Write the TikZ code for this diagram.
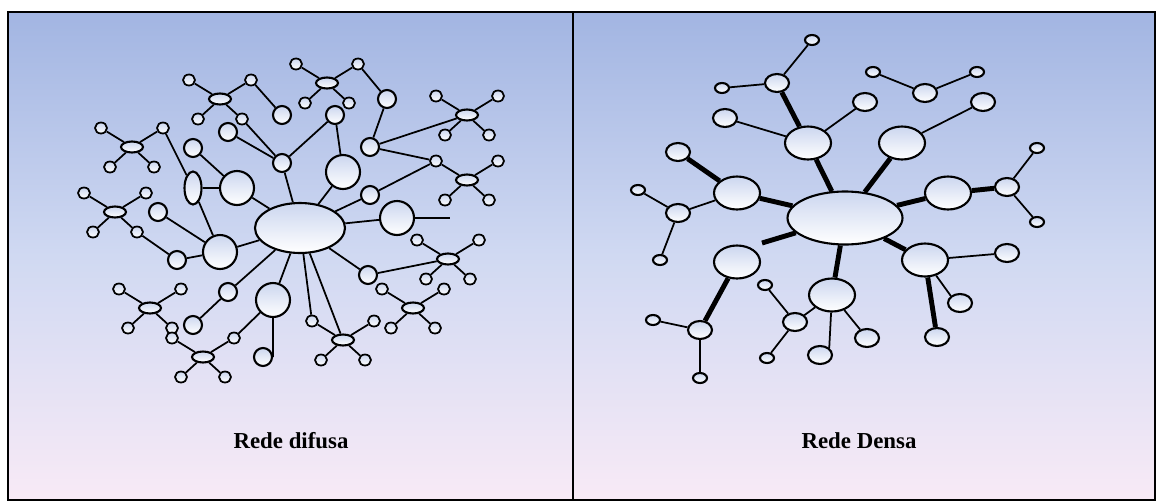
\documentclass[tikz,border=0pt]{standalone}
\usepackage{fontspec}
\setmainfont{Liberation Serif}
\usetikzlibrary{shapes.geometric}
\definecolor{skytop}{RGB}{162,181,226}
\definecolor{skymid}{RGB}{208,217,242}
\definecolor{skybot}{RGB}{248,234,246}
\newcommand{\molec}[3]{%
  \node[core] (#1) at (#2,#3) {};
  \foreach \k/\dx/\dy in {a/-31/-19, b/31/-19, c/-22/20, d/22/20} {
    \node[atom] (#1\k) at (#2+\dx,#3+\dy) {};
    \draw[link] (#1) -- (#1\k);
  }%
}
\begin{document}
\begin{tikzpicture}[
    x=0.02cm, y=-0.02cm,
    ball/.style={draw, ellipse, line width=1.2pt, inner sep=0pt, top color=skytop!55!white, bottom color=white},
    atom/.style={ball, minimum width=0.24cm, minimum height=0.22cm, line width=1pt},
    core/.style={ball, minimum width=0.44cm, minimum height=0.22cm},
    bub/.style={ball, minimum width=0.36cm, minimum height=0.36cm},
    blob/.style={ball, minimum width=0.68cm, minimum height=0.68cm},
    hubL/.style={ball, minimum width=1.8cm, minimum height=1.0cm},
    hubR/.style={ball, minimum width=2.3cm, minimum height=1.06cm},
    bigR/.style={ball, minimum width=0.92cm, minimum height=0.66cm},
    med/.style={ball, minimum width=0.48cm, minimum height=0.36cm},
    sml/.style={ball, minimum width=0.28cm, minimum height=0.2cm},
    link/.style={line width=1pt},
    bond/.style={line width=2.8pt},
    lab/.style={font=\bfseries\fontsize{13}{15}\selectfont}
]
\path[fill=white] (0,0) rectangle (1158,500);
\shade[top color=skytop, bottom color=skybot, middle color=skymid] (8,12) rectangle (573,500);
\shade[top color=skytop, bottom color=skybot, middle color=skymid] (573,12) rectangle (1155,500);
\draw[line width=1.1pt] (8,12) rectangle (1155,500);
\draw[line width=1.1pt] (573,12) -- (573,500);

% Rede difusa
\node[hubL] (L) at (300,228) {};
\molec{m1}{220}{99}
\molec{m2}{132}{147}
\molec{m3}{327}{83}
\molec{m4}{467}{115}
\molec{m5}{467}{180}
\molec{m6}{115}{212}
\molec{m7}{150}{308}
\molec{m8}{203}{357}
\molec{m9}{343}{340}
\molec{m10}{448}{259}
\molec{m11}{413}{308}
\foreach \n/\p in {b1/{228,132}, b2/{282,115}, b3/{282,163}, b4/{193,148}, b5/{158,212},
    b6/{177,260}, b7/{228,292}, b8/{193,325}, b9/{263,357}, b10/{335,115},
    b11/{387,99}, b12/{370,147}, b13/{370,195}, b14/{368,275}}
  \node[bub] (\n) at (\p) {};
\foreach \n/\p in {g1/{237,188}, g2/{220,252}, g3/{273,300}, g4/{343,172}, g5/{397,218}}
  \node[blob] (\n) at (\p) {};
\node[ball, minimum width=0.34cm, minimum height=0.66cm] (v1) at (193,188) {};
\coordinate (e1) at (450,218);

\foreach \a/\b in {m1b/b2, m1d/b3, b1/b3, b3/L, b3/b10, m2b/v1, v1/g1, b4/g1, g1/L,
    b5/g2, m6d/b6, b6/g2, v1/g2, g2/L, b7/L, b7/b8, m8b/g3, g3/L, g3/b9.east,
    L/m9a, L/m9, L/b14, b14/m10, L/b13, b13/m5a, L/g5, g5/e1, L/g4, g4/b10,
    b11/m3b, b11/b12, b12/m4, b12/m5a}
  \draw[link] (\a) -- (\b);

% Rede Densa
\node[hubR] (R) at (845,218) {};
\foreach \n/\p in {B1/{808,143}, B2/{902,143}, B3/{737,193}, B4/{948,193},
    B5/{925,260}, B6/{737,262}, B7/{832,295}}
  \node[bigR] (\n) at (\p) {};
\foreach \n/\p in {c1/{777,83}, c2/{725,118}, c3/{865,102}, c4/{925,93}, c5/{983,102},
    c6/{678,152}, c7/{678,213}, c8/{700,330}, c9/{795,322}, c10/{1007,187},
    c11/{1007,253}, c12/{960,303}, c13/{937,337}, c14/{820,355}, c15/{867,338}}
  \node[med] (\n) at (\p) {};
\foreach \n/\p in {d1/{812,40}, d2/{722,88}, d3/{873,72}, d4/{977,72}, d5/{638,190},
    d6/{660,260}, d7/{653,320}, d8/{700,378}, d9/{765,285}, d10/{767,358},
    d11/{1037,148}, d12/{1037,222}}
  \node[sml] (\n) at (\p) {};
\coordinate (e2) at (762,243);

\foreach \a/\b in {c1/d1, c1/d2, B1/c2, B1/c3, c4/d3, c4/d4, B2/c5, d5/c7, c7/B3,
    c7/d6, c8/d7, c8/d8, d9/c9, c9/d10, c9/B7, B7/c14.north east, B7/c15,
    c10/d11, c10/d12, B5/c11, B5/c12.north west}
  \draw[link] (\a) -- (\b);
\foreach \a/\b in {c1/B1, B1/R, B2/R, c6/B3, B3/R, R/e2, B6/c8, B7/R, B4/R,
    B4/c10, R/B5, B5/c13}
  \draw[bond] (\a) -- (\b);

\node[lab] (tL) at (291,441) {Rede difusa};
\node[lab] (tR) at (859,441) {Rede Densa};
\end{tikzpicture}
\end{document}
